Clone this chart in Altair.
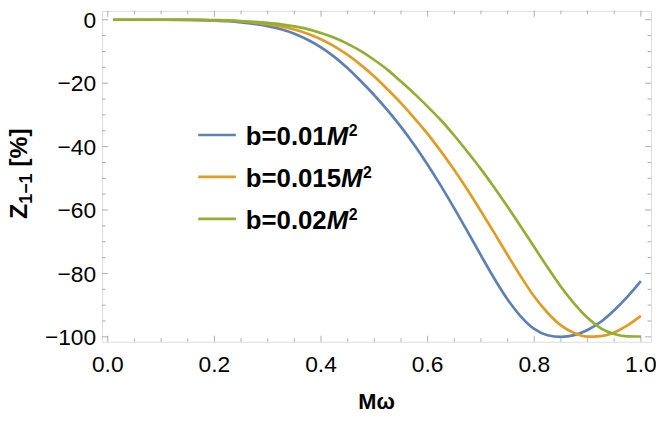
import altair as alt
import pandas as pd
import numpy as np

# ---------------- data ----------------
omega = [0.01, 0.05, 0.10, 0.15, 0.175, 0.20, 0.225, 0.25, 0.275, 0.30,
         0.325, 0.35, 0.375, 0.40, 0.425, 0.45, 0.475, 0.50, 0.525, 0.55,
         0.575, 0.60, 0.625, 0.65, 0.675, 0.70, 0.725, 0.75, 0.775, 0.80,
         0.825, 0.85, 0.875, 0.90, 0.925, 0.95, 0.975, 1.00]
z_b001 = [0, 0, 0, -0.05, -0.12, -0.25, -0.45, -0.8, -1.3, -2.0,
          -3.0, -4.4, -6.3, -8.7, -11.7, -15.3, -19.4, -23.8, -28.6, -33.8,
          -39.5, -45.7, -52.4, -59.5, -66.8, -74.3, -81.6, -88.2, -93.6, -97.5,
          -99.5, -100.0, -99.45, -97.85, -95.25, -91.6, -87.3, -82.4]
z_b0015 = [0, 0, 0, -0.02, -0.08, -0.17, -0.3, -0.5, -0.9, -1.43,
           -2.13, -3.08, -4.4, -6.15, -8.4, -11.1, -14.3, -17.9, -22.0, -26.3,
           -31.0, -36.0, -41.5, -47.4, -53.7, -60.4, -67.2, -74.2, -81.0, -87.3,
           -92.4, -96.4, -98.8, -99.95, -99.75, -98.6, -96.4, -93.4]
z_b002 = [0, 0, 0, 0, -0.05, -0.1, -0.2, -0.38, -0.65, -1.0,
          -1.45, -2.1, -2.95, -4.2, -5.7, -7.6, -9.9, -12.7, -15.8, -19.5,
          -23.3, -27.4, -31.7, -36.5, -41.7, -47.1, -52.9, -59.0, -65.3, -71.7,
          -78.1, -84.2, -89.5, -94.0, -97.3, -99.1, -99.85, -99.9]

series = ["b=0.01", "b=0.015", "b=0.02"]
colors = ["#5E81B5", "#E19C24", "#8FB032"]

x_major = [0.0, 0.2, 0.4, 0.6, 0.8, 1.0]
x_labels = ["0.0", "0.2", "0.4", "0.6", "0.8", "1.0"]
y_major = [-100, -80, -60, -40, -20, 0]
y_labels = ["−100", "−80", "−60", "−40", "−20", "0"]

x_title = "Mω"
y_title_parts = ["Z", "1−1", "[%]"]

# ---------------- layout ----------------
FONT = "Liberation Sans"
FRAME = "#8c8c8c"
W, H = 554, 334
x_dom = [-0.0106, 1.0191]
y_dom = [-101.56, 2.81]
TICK_FS = 23

x_minor = [v for v in np.round(np.arange(0, 1.0001, 0.05), 2) if v not in x_major]
y_minor = [v for v in range(-100, 1, 5) if v not in y_major]

BW = {'b': 0.611, '=': 0.584, '.': 0.278, 'M': 0.833, 'Z': 0.611, ' ': 0.278,
      '[': 0.333, ']': 0.333, '%': 0.889, '−': 0.584}


def tw(s, size):
    return sum(BW.get(c, 0.556) for c in s) * size


xs = alt.Scale(domain=x_dom, nice=False, zero=False)
ys = alt.Scale(domain=y_dom, nice=False, zero=False)

n = len(omega)
df = pd.DataFrame({
    "omega": omega * 3,
    "Z": z_b001 + z_b0015 + z_b002,
    "series": [series[0]] * n + [series[1]] * n + [series[2]] * n,
})

lines = alt.Chart(df).mark_line(strokeWidth=2.7, interpolate="monotone").encode(
    x=alt.X("omega:Q", scale=xs, axis=None),
    y=alt.Y("Z:Q", scale=ys, axis=None),
    color=alt.Color("series:N", scale=alt.Scale(domain=series, range=colors), legend=None),
)

layers = [lines]


def xticks(vals, L, top):
    d = pd.DataFrame({"v": vals})
    return alt.Chart(d).mark_tick(orient="vertical", size=L, thickness=1, color=FRAME).encode(
        x=alt.X("v:Q", scale=xs, axis=None),
        y=alt.value(L / 2 if top else H - L / 2))


def yticks(vals, L, right):
    d = pd.DataFrame({"v": vals})
    return alt.Chart(d).mark_tick(orient="horizontal", size=L, thickness=1, color=FRAME).encode(
        y=alt.Y("v:Q", scale=ys, axis=None),
        x=alt.value(W - L / 2 if right else L / 2))


for side in (False, True):
    layers.append(xticks(x_major, 6, side))
    layers.append(xticks(x_minor, 3.5, side))
    layers.append(yticks(y_major, 6, side))
    layers.append(yticks(y_minor, 3.5, side))

# tick labels
layers.append(alt.Chart(pd.DataFrame({"v": x_major, "t": x_labels})).mark_text(
    font=FONT, fontSize=TICK_FS, color="black", align="center", baseline="alphabetic"
).encode(x=alt.X("v:Q", scale=xs, axis=None), y=alt.value(H + 30), text="t:N"))
layers.append(alt.Chart(pd.DataFrame({"v": y_major, "t": y_labels})).mark_text(
    font=FONT, fontSize=TICK_FS, color="black", align="right", baseline="alphabetic",
    dy=0.36 * TICK_FS
).encode(y=alt.Y("v:Q", scale=ys, axis=None), x=alt.value(-6), text="t:N"))


def text(s, x, y, size, **kw):
    return alt.Chart(pd.DataFrame({"t": [s]})).mark_text(
        font=FONT, fontSize=size, fontWeight="bold", color="black", **kw
    ).encode(text="t:N", x=alt.value(x), y=alt.value(y))


# legend (manual, to allow italic M and superscript)
LEG_X0, LEG_X1, LEG_TX = 97, 135, 145
LEG_Y0, LEG_DY = 125.3, 42.35
LS = 26
for i, (s, c) in enumerate(zip(series, colors)):
    ry = LEG_Y0 + LEG_DY * i
    layers.append(alt.Chart(pd.DataFrame({"k": [s]})).mark_rule(
        color=c, strokeWidth=2.7).encode(
        x=alt.value(LEG_X0), x2=alt.value(LEG_X1), y=alt.value(ry)))
    layers.append(text(s, LEG_TX, ry + 10, LS, align="left", baseline="alphabetic"))
    mx = LEG_TX + tw(s, LS)
    layers.append(text("M", mx, ry + 10, LS, align="left", baseline="alphabetic",
                       fontStyle="italic"))
    layers.append(text("2", mx + tw("M", LS) + 0.5, ry + 1, 16, align="left",
                       baseline="alphabetic"))

# x title
layers.append(text(x_title, W / 2, 395, 22, align="center", baseline="middle"))

# y title (rotated, with subscript)
YT_X, YT_Y = -76, 210
MS, SS = 25, 18
y0 = YT_Y
layers.append(text(y_title_parts[0], YT_X, y0, MS, align="left", baseline="alphabetic", angle=270))
y0 -= tw(y_title_parts[0], MS)
layers.append(text(y_title_parts[1], YT_X + 5, y0, SS, align="left", baseline="alphabetic", angle=270))
y0 -= tw(y_title_parts[1], SS) + tw(" ", MS)
layers.append(text(y_title_parts[2], YT_X, y0, MS, align="left", baseline="alphabetic", angle=270))

chart = alt.layer(*layers).properties(
    width=W, height=H,
    padding={"left": 95, "top": 1, "right": 5, "bottom": 70},
    autosize=alt.AutoSizeParams(type="none"),
).configure_view(stroke=FRAME, strokeWidth=1).configure(background="white")

chart.save("out.html", embed_options={"renderer": "svg", "actions": False})
